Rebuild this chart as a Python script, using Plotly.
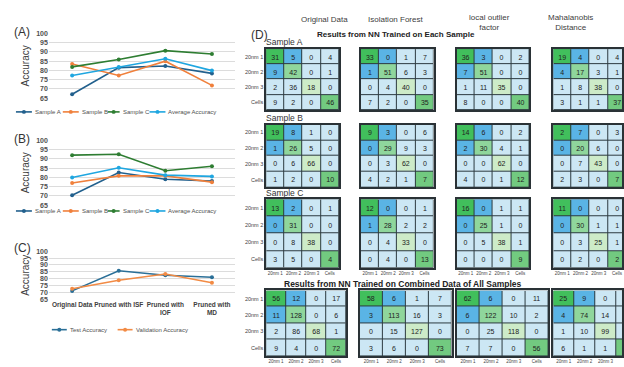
import plotly.graph_objects as go

W, H = 624, 367

# ---- accuracy data ----
stages = ["Original Data", "Pruned with ISF", "Pruned with<br>IOF", "Pruned with<br>MD"]

acc_a_sample_a = [67.1, 81.5, 82.4, 78.4]
acc_a_sample_b = [83.5, 77.3, 85.0, 71.9]
acc_a_sample_c = [81.9, 85.9, 90.7, 88.9]
acc_a_average = [77.3, 81.9, 86.3, 79.9]

acc_b_sample_a = [70.3, 82.6, 79.0, 78.0]
acc_b_sample_b = [76.9, 80.8, 80.8, 77.4]
acc_b_sample_c = [92.0, 92.5, 83.6, 86.0]
acc_b_average = [79.9, 85.2, 81.2, 80.5]

test_acc = [71.1, 85.8, 82.5, 81.0]
val_acc = [72.6, 78.9, 83.4, 77.0]

# ---- confusion matrices ----
class_labels = ["20nm 1", "20nm 2", "20nm 3", "Cells"]
methods = ["Original Data", "Isolation Forest", "local outlier<br>factor", "Mahalanobis<br>Distance"]

cm_a_orig = [[31, 5, 0, 4], [9, 42, 0, 1], [2, 36, 18, 0], [9, 2, 0, 46]]
cm_a_if = [[33, 0, 1, 7], [1, 51, 6, 3], [0, 4, 40, 0], [7, 2, 0, 35]]
cm_a_lof = [[36, 3, 0, 2], [7, 51, 0, 0], [1, 11, 35, 0], [8, 0, 0, 40]]
cm_a_md = [[19, 4, 0, 4], [4, 17, 3, 1], [1, 8, 38, 0], [3, 1, 1, 37]]

cm_b_orig = [[19, 8, 1, 0], [1, 26, 5, 0], [0, 6, 66, 0], [1, 2, 0, 10]]
cm_b_if = [[9, 3, 0, 6], [0, 29, 9, 3], [0, 3, 62, 0], [4, 2, 1, 7]]
cm_b_lof = [[14, 6, 0, 2], [2, 30, 4, 1], [0, 0, 62, 0], [4, 0, 1, 12]]
cm_b_md = [[2, 7, 0, 3], [0, 20, 6, 0], [0, 7, 43, 0], [2, 3, 0, 7]]

cm_c_orig = [[13, 2, 0, 1], [0, 31, 0, 0], [0, 8, 38, 0], [3, 5, 0, 4]]
cm_c_if = [[12, 0, 0, 1], [1, 28, 2, 2], [0, 4, 33, 0], [0, 4, 0, 13]]
cm_c_lof = [[16, 0, 1, 1], [0, 25, 1, 0], [0, 5, 38, 1], [0, 0, 0, 9]]
cm_c_md = [[11, 0, 0, 0], [0, 30, 1, 1], [0, 3, 25, 1], [0, 2, 0, 2]]

cm_all_orig = [[56, 12, 0, 17], [11, 128, 0, 6], [2, 86, 68, 1], [9, 4, 0, 72]]
cm_all_if = [[58, 6, 1, 7], [3, 113, 16, 3], [0, 15, 127, 0], [3, 6, 0, 73]]
cm_all_lof = [[62, 6, 0, 11], [6, 122, 10, 2], [0, 25, 118, 0], [7, 7, 0, 56]]
cm_all_md = [[25, 9, 0, 7], [4, 74, 14, 3], [1, 10, 99, 0], [6, 1, 1, 45]]

# ---- styling ----
C_A, C_B, C_C, C_AVG = "#22608d", "#f0803c", "#2e7d32", "#1fa6e0"
C_TEST, C_VAL = "#2a6f97", "#f28b45"
FONT = "Arial"
TXT = "#333333"

cell_colors = ["#41bf5c", "#8fd69c", "#cdebc8", "#72ca80", "#5ab4e5", "#cce7f4"]
GRID_DARK = "#2d3b40"


def px_x(v):
    return v / W


def px_y(v):
    return 1 - v / H


def tone(i, j):
    if i == j:
        return i
    if (i, j) in ((0, 1), (1, 0)):
        return 4
    return 5


fig = go.Figure()
layout = dict(
    width=W, height=H, margin=dict(l=0, r=0, t=0, b=0),
    paper_bgcolor="white", plot_bgcolor="white",
    font=dict(family=FONT, color=TXT), showlegend=False,
)
annotations = []
shapes = []

# ---- line panels ----
line_panels = [
    ("(A)", 30, 96, [("Sample A", acc_a_sample_a, C_A), ("Sample B", acc_a_sample_b, C_B),
                     ("Sample C", acc_a_sample_c, C_C), ("Average Accuracy", acc_a_average, C_AVG)], False),
    ("(B)", 139, 205, [("Sample A", acc_b_sample_a, C_A), ("Sample B", acc_b_sample_b, C_B),
                       ("Sample C", acc_b_sample_c, C_C), ("Average Accuracy", acc_b_average, C_AVG)], False),
    ("(C)", 252, 301, [("Test Accuracy", test_acc, C_TEST), ("Validation Accuracy", val_acc, C_VAL)], True),
]
label_y = [29, 138, 249]
legend_rows = [
    (110, [16, 63, 108, 150], [33, 80, 121, 167]),
    (211, [16, 63, 108, 150], [33, 80, 121, 167]),
    (332, [52, 118], [68, 134]),
]

for k, (tag, ytop, ybot, series, show_x) in enumerate(line_panels):
    ax = "" if k == 0 else str(k + 1)
    for name, vals, col in series:
        fig.add_trace(go.Scatter(
            x=stages, y=vals, mode="lines+markers", name=name,
            line=dict(color=col, width=1.6), marker=dict(size=4, color=col),
            xaxis="x" + ax, yaxis="y" + ax,
        ))
    layout["xaxis" + ax] = dict(
        domain=[px_x(49), px_x(236)], anchor="y" + ax, type="category",
        range=[-0.5, 3.5], showgrid=False, zeroline=False, showline=False,
        showticklabels=show_x, ticks="", tickangle=0,
        tickfont=dict(size=6.5, weight="bold", color="#404040"),
    )
    layout["yaxis" + ax] = dict(
        domain=[px_y(ybot), px_y(ytop)], anchor="x" + ax, range=[65, 100],
        dtick=5, showgrid=True, gridcolor="#dcdcdc", gridwidth=1, zeroline=False,
        showline=False, ticks="", tickfont=dict(size=7, weight="bold", color="#505050"),
        title=dict(text="Accuracy", font=dict(size=10, color="#404040"), standoff=4),
    )
    annotations.append(dict(text=tag, x=px_x(12), y=px_y(label_y[k]), xref="paper", yref="paper",
                            xanchor="left", yanchor="middle", showarrow=False,
                            font=dict(size=12, color=TXT)))
    # legend row
    ly, lx0, tx = legend_rows[k]
    for (name, vals, col), x0, t0 in zip(series, lx0, tx):
        x1 = t0 - 1
        shapes.append(dict(type="line", xref="paper", yref="paper",
                           x0=px_x(x0), x1=px_x(x1), y0=px_y(ly), y1=px_y(ly),
                           line=dict(color=col, width=1.6)))
        cx = (x0 + x1) / 2
        shapes.append(dict(type="circle", xref="paper", yref="paper",
                           x0=px_x(cx - 2), x1=px_x(cx + 2), y0=px_y(ly + 2), y1=px_y(ly - 2),
                           fillcolor=col, line=dict(color=col, width=0)))
        annotations.append(dict(text=name, x=px_x(t0), y=px_y(ly), xref="paper", yref="paper",
                                xanchor="left", yanchor="middle", showarrow=False,
                                font=dict(size=6, color="#505050")))

# ---- confusion-matrix panels ----
matrix_rows = [
    [cm_a_orig, cm_a_if, cm_a_lof, cm_a_md],
    [cm_b_orig, cm_b_if, cm_b_lof, cm_b_md],
    [cm_c_orig, cm_c_if, cm_c_lof, cm_c_md],
    [cm_all_orig, cm_all_if, cm_all_lof, cm_all_md],
]
row_top = [46, 123, 199, 292]
row_h = [62, 64, 70, 67]
col_left = [[267, 362, 458, 555]] * 3 + [[267, 361, 458, 555]]
col_w = [[73, 73, 73, 73]] * 3 + [[80, 92, 92, 84]]

n = len(class_labels)
idx = list(range(n))
ax_id = 4
for r, mats in enumerate(matrix_rows):
    for c, cm in enumerate(mats):
        ax = str(ax_id)
        ax_id += 1
        left, w = col_left[r][c], col_w[r][c]
        right = min(left + w, W)
        visible = (right - left) / w
        top, h = row_top[r], row_h[r]
        # dark backing so the cell gaps read as grid lines
        fig.add_trace(go.Heatmap(
            z=[[0] * n for _ in idx], x=idx, y=idx,
            colorscale=[[0, GRID_DARK], [1, GRID_DARK]], showscale=False,
            hoverinfo="skip", xaxis="x" + ax, yaxis="y" + ax,
        ))
        fig.add_trace(go.Heatmap(
            z=[[tone(i, j) for j in idx] for i in idx], x=idx, y=idx,
            text=[[str(v) for v in row] for row in cm], texttemplate="%{text}",
            textfont=dict(size=7, color="#222222", family=FONT),
            colorscale=[s for k2, col in enumerate(cell_colors)
                        for s in ([k2 / 6, col], [(k2 + 1) / 6, col])],
            zmin=-0.5, zmax=5.5, showscale=False, xgap=1, ygap=1,
            xaxis="x" + ax, yaxis="y" + ax,
        ))
        layout["xaxis" + ax] = dict(
            domain=[px_x(left), px_x(right)], anchor="y" + ax,
            range=[-0.5, -0.5 + n * visible], showgrid=False, zeroline=False,
            showline=True, mirror=True, linecolor="#2a3236", linewidth=1.5,
            ticks="", tickvals=idx, ticktext=class_labels, tickangle=0,
            showticklabels=(r >= 2), tickfont=dict(size=4.5, color="#444444"),
        )
        layout["yaxis" + ax] = dict(
            domain=[px_y(top + h), px_y(top)], anchor="x" + ax,
            range=[n - 0.5, -0.5], showgrid=False, zeroline=False,
            showline=True, mirror=True, linecolor="#2a3236", linewidth=1.5,
            ticks="", tickvals=idx, ticktext=class_labels,
            showticklabels=(c == 0), tickfont=dict(size=5.5, color="#444444"),
        )

# ---- panel D headings ----
method_centers = [326, 397, 491, 572]
for name, cx in zip(methods, method_centers):
    yy = 19 if "<br>" in name else 16
    annotations.append(dict(text=name, x=px_x(cx), y=px_y(yy), xref="paper", yref="paper",
                            xanchor="center", yanchor="middle", showarrow=False,
                            font=dict(size=8, color="#404040")))
annotations.append(dict(text="(D)", x=px_x(250), y=px_y(32), xref="paper", yref="paper",
                        xanchor="left", yanchor="middle", showarrow=False,
                        font=dict(size=12, color=TXT)))
annotations.append(dict(text="<b>Results from NN Trained on Each Sample</b>", x=px_x(397), y=px_y(31),
                        xref="paper", yref="paper", xanchor="center", yanchor="middle",
                        showarrow=False, font=dict(size=8, color="#222222")))
annotations.append(dict(text="<b>Results from NN Trained on Combined Data of All Samples</b>",
                        x=px_x(404), y=px_y(285), xref="paper", yref="paper",
                        xanchor="center", yanchor="middle", showarrow=False,
                        font=dict(size=8.5, color="#222222")))
for name, yy in zip(["Sample A", "Sample B", "Sample C"], [39, 116, 193]):
    annotations.append(dict(text=name, x=px_x(265), y=px_y(yy), xref="paper", yref="paper",
                            xanchor="left", yanchor="middle", showarrow=False,
                            font=dict(size=8.5, color="#333333")))

layout["annotations"] = annotations
layout["shapes"] = shapes
fig.update_layout(**layout)
fig.write_html("out.html")
